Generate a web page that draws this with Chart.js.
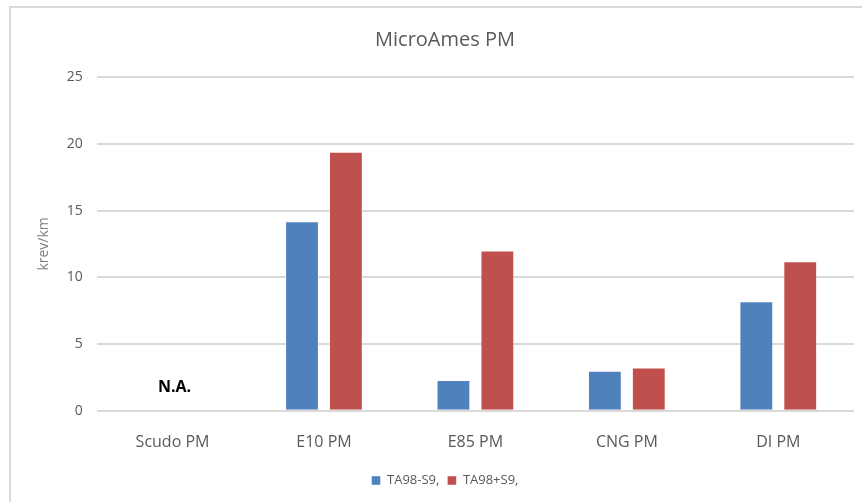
<!DOCTYPE html>
<html>
<head>
<meta charset="utf-8">
<script src="https://cdn.jsdelivr.net/npm/chart.js@4.4.1/dist/chart.umd.min.js"></script>
<style>
  html, body { margin: 0; padding: 0; background: #fff; overflow: hidden; }
  #frame { position: absolute; left: 9px; top: 6px; width: 900px; height: 600px; border: 2px solid #d9d9d9; box-sizing: border-box; }
  #wrap { position: absolute; left: 0; top: 0; width: 862px; height: 502px; }
</style>
</head>
<body>
<div id="frame"></div>
<div id="wrap"><canvas id="c" width="862" height="502"></canvas></div>
<script>
const categories = ['Scudo PM', 'E10 PM', 'E85 PM', 'CNG PM', 'DI PM'];
const seriesNames = ['TA98-S9,', 'TA98+S9,'];
const ta98Minus = [null, 14.2, 2.3, 3.0, 8.2];
const ta98Plus = [null, 19.4, 12.0, 3.25, 11.2];
const yTicks = [0, 5, 10, 15, 20, 25];
const naLabel = 'N.A.';

const naPlugin = {
  id: 'naLabel',
  afterDatasetsDraw(chart) {
    const ctx = chart.ctx;
    const x = chart.scales.x.getPixelForValue(0);
    const y = chart.scales.y.getPixelForValue(1.75);
    ctx.save();
    ctx.font = 'bold 16px "Open Sans", sans-serif';
    ctx.fillStyle = '#000';
    ctx.textAlign = 'center';
    ctx.textBaseline = 'middle';
    ctx.fillText(naLabel, x + 2, y);
    ctx.restore();
  }
};

new Chart(document.getElementById('c'), {
  type: 'bar',
  data: {
    labels: categories,
    datasets: [
      { label: seriesNames[0], data: ta98Minus, backgroundColor: '#4f81bd', borderColor: 'rgba(255,255,255,0.45)', borderWidth: 1 },
      { label: seriesNames[1], data: ta98Plus, backgroundColor: '#c0504d', borderColor: 'rgba(255,255,255,0.45)', borderWidth: 1 }
    ]
  },
  options: {
    responsive: false,
    animation: false,
    devicePixelRatio: 1,
    layout: { padding: { left: 36, right: 8, top: 10, bottom: 5 } },
    datasets: { bar: { categoryPercentage: 0.58, barPercentage: 0.77 } },
    plugins: {
      title: {
        display: true,
        text: 'MicroAmes PM',
        color: '#595959',
        font: { family: '"Open Sans", sans-serif', size: 20, weight: 'normal' },
        padding: { top: 18, bottom: 25 }
      },
      legend: {
        position: 'bottom',
        labels: {
          color: '#595959',
          font: { family: '"Open Sans", sans-serif', size: 13 },
          boxWidth: 9, boxHeight: 9, padding: 8
        }
      },
      tooltip: { enabled: false }
    },
    scales: {
      x: {
        grid: { display: false },
        border: { display: false },
        ticks: { color: '#595959', font: { family: '"Open Sans", sans-serif', size: 16 }, padding: 14 }
      },
      y: {
        min: 0, max: 25,
        afterBuildTicks(axis) { axis.ticks = yTicks.map(v => ({ value: v })); },
        grid: { color: '#d9d9d9', lineWidth: 2, drawTicks: false },
        border: { display: false },
        ticks: { color: '#595959', font: { family: '"Open Sans", sans-serif', size: 14 }, padding: 14 },
        title: { display: true, text: 'krev/km', color: '#7f7f7f', font: { family: '"Open Sans", sans-serif', size: 14 }, padding: { top: 0, bottom: 0 } }
      }
    }
  },
  plugins: [naPlugin]
});
</script>
</body>
</html>
